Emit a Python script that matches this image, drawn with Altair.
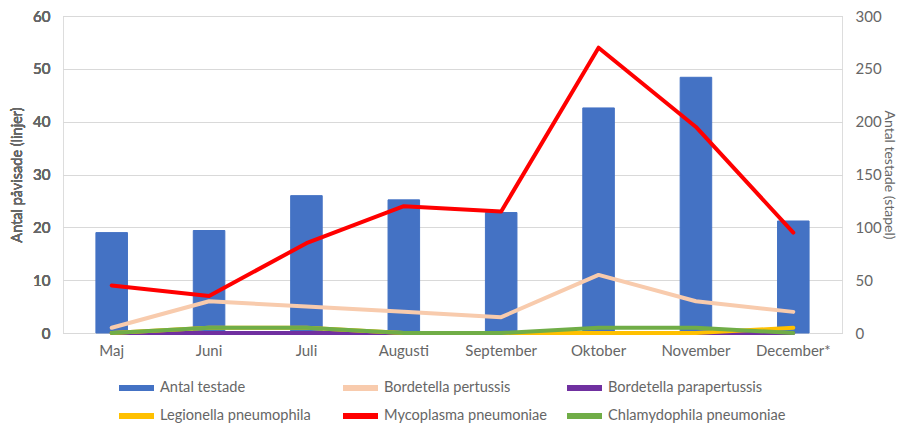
import altair as alt
import pandas as pd

months = ["Maj", "Juni", "Juli", "Augusti", "September", "Oktober", "November", "December*"]
antal_testade = [95, 97, 130, 126, 114, 213, 242, 106]
pertussis = [1, 6, 5, 4, 3, 11, 6, 4]
parapertussis = [0, 0, 0, 0, 0, 0, 0, 0]
legionella = [0, 1, 1, 0, 0, 0, 0, 1]
mycoplasma = [9, 7, 17, 24, 23, 54, 39, 19]
chlamydophila = [0, 1, 1, 0, 0, 1, 1, 0]

series_names = ["Antal testade", "Bordetella pertussis", "Bordetella parapertussis",
                "Legionella pneumophila", "Mycoplasma pneumoniae", "Chlamydophila pneumoniae"]
series_colors = ["#4472C4", "#F8CBAD", "#7030A0", "#FFC000", "#FF0000", "#70AD47"]

line_series = {
    "Bordetella pertussis": pertussis,
    "Bordetella parapertussis": parapertussis,
    "Legionella pneumophila": legionella,
    "Mycoplasma pneumoniae": mycoplasma,
    "Chlamydophila pneumoniae": chlamydophila,
}

FONT = "Lato"
GREY = "#666666"
FS = 15

bar_df = pd.DataFrame({"month": months, "value": antal_testade, "series": "Antal testade"})

color = alt.Color(
    "series:N",
    scale=alt.Scale(domain=series_names, range=series_colors),
    legend=alt.Legend(
        title=None, orient="none", legendX=53, legendY=361, columns=3, direction="horizontal",
        symbolType="stroke", symbolSize=1225, symbolStrokeWidth=6, clipHeight=22,
        labelFontSize=14.6, labelColor=GREY, labelFont=FONT, labelOffset=3, labelLimit=300,
        columnPadding=2, rowPadding=6, padding=0, gridAlign="all",
    ),
)

xenc = alt.X(
    "month:N", sort=months, title=None,
    scale=alt.Scale(paddingInner=0.676, paddingOuter=0.338),
    axis=alt.Axis(labelAngle=0, ticks=False, domainColor="#D9D9D9", labelColor=GREY,
                  labelFontSize=FS, labelFont=FONT, labelPadding=10),
)

bars = alt.Chart(bar_df).mark_bar(color="#4472C4").encode(
    x=xenc,
    y=alt.Y("value:Q", scale=alt.Scale(domain=[0, 300]),
            axis=alt.Axis(orient="right", values=[0, 50, 100, 150, 200, 250, 300], grid=False,
                          domain=False, ticks=False, labelColor=GREY, labelFontSize=FS,
                          labelFont=FONT, labelPadding=13, title="Antal testade (stapel)",
                          titleColor=GREY, titleFontSize=14, titleFont=FONT,
                          titleFontWeight="normal", titlePadding=0)),
    color=color,
    stroke=alt.value("#4472C4"),
)

rows = []
for name, vals in line_series.items():
    for m, v in zip(months, vals):
        rows.append({"month": m, "value": v, "series": name})
line_df = pd.DataFrame(rows)

yleft = alt.Y("value:Q", scale=alt.Scale(domain=[0, 60]),
              axis=alt.Axis(orient="left", values=[0, 10, 20, 30, 40, 50, 60], grid=True,
                            gridColor="#D9D9D9", domain=False, ticks=False, labelColor=GREY,
                            labelFontSize=FS, labelFont=FONT, labelPadding=13,
                            title="Antal påvisade (linjer)", titleColor=GREY, titleFontSize=14.5,
                            titleFont=FONT, titleFontWeight="normal", titlePadding=8))

line_layers = []
for name in line_series:
    line_layers.append(
        alt.Chart(line_df).transform_filter(alt.datum.series == name)
        .mark_line(strokeWidth=4, strokeJoin="round", strokeCap="round")
        .encode(x=xenc, y=yleft, color=color)
    )

chart = alt.layer(bars, *line_layers).resolve_scale(y="independent").properties(
    width=779, height=317,
    autosize=alt.AutoSizeParams(type="none"),
    padding={"left": 55, "top": 8, "right": 56, "bottom": 91},
).configure_view(stroke=None).configure_axis(titleFontWeight="normal").configure(background="white")

chart.save("out.html", embed_options={"renderer": "svg", "actions": False})
